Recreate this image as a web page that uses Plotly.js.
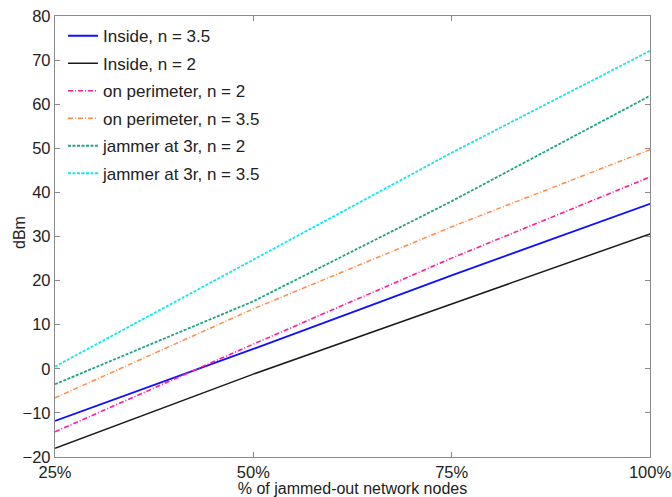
<!DOCTYPE html>
<html>
<head>
<meta charset="utf-8">
<script src="https://cdn.plot.ly/plotly-3.0.1.min.js"></script>
<style>
  html, body { margin: 0; padding: 0; background: #fff; }
  #chart { width: 672px; height: 497px; }
</style>
</head>
<body>
<div id="chart"></div>
<script>
// Share of jammed-out network nodes (%)
const jammedPct = [25, 50, 75, 100];
const tickLabels = ['25%', '50%', '75%', '100%'];

// Required jammer power (dBm) for each placement / path-loss exponent
const insideN35 = [-11.8, 4.5, 21.2, 37.4];
const insideN2 = [-18.0, -1.2, 14.7, 30.6];
const perimeterN2 = [-14.3, 5.6, 25.1, 43.5];
const perimeterN35 = [-6.6, 13.6, 32.2, 49.7];
const jammer3rN2 = [-3.5, 15.3, 38.0, 61.9];
const jammer3rN35 = [0.5, 24.8, 49.0, 72.1];

const seriesNames = [
  'Inside, n = 3.5',
  'Inside, n = 2',
  'on perimeter, n = 2',
  'on perimeter, n = 3.5',
  'jammer at 3r, n = 2',
  'jammer at 3r, n = 3.5'
];

const seriesValues = [insideN35, insideN2, perimeterN2, perimeterN35, jammer3rN2, jammer3rN35];
const lineStyles = [
  { color: '#1010ff', width: 1.8, dash: 'solid' },
  { color: '#1a1a1a', width: 1.5, dash: 'solid' },
  { color: '#ff1a9c', width: 1.6, dash: '5px,2px,1px,2px' },
  { color: '#ff8c45', width: 1.5, dash: '5px,2px,1px,2px' },
  { color: '#1fa386', width: 1.8, dash: '3px,1.5px' },
  { color: '#10e8f0', width: 1.8, dash: '3px,1.5px' }
];

const traces = seriesValues.map((vals, i) => ({
  x: jammedPct,
  y: vals,
  type: 'scatter',
  mode: 'lines',
  name: seriesNames[i],
  legendgroup: 'g' + i,
  line: lineStyles[i]
}));

const fontFamily = 'Liberation Sans, Arial, sans-serif';

const axisCommon = {
  showgrid: false,
  zeroline: false,
  showline: true,
  linecolor: '#8a8a8a',
  linewidth: 1.2,
  mirror: 'ticks',
  ticks: 'inside',
  ticklen: 5,
  tickcolor: '#8a8a8a',
  tickfont: { family: fontFamily, size: 16.5, color: '#222' }
};

const layout = {
  width: 672,
  height: 497,
  margin: { l: 55, r: 22, t: 16, b: 40 },
  paper_bgcolor: '#fff',
  plot_bgcolor: '#fff',
  font: { family: fontFamily, size: 16, color: '#222' },
  xaxis: Object.assign({}, axisCommon, {
    range: [25, 100],
    tickvals: jammedPct,
    ticktext: tickLabels,
    title: { text: '% of jammed-out network nodes', font: { size: 16, color: '#222' }, standoff: 2 }
  }),
  yaxis: Object.assign({}, axisCommon, {
    range: [-20, 80],
    dtick: 10
  }),
  // y-axis label placed close to the tick labels
  annotations: [{
    text: 'dBm',
    textangle: -90,
    xref: 'paper',
    yref: 'paper',
    x: 0,
    y: 0.5,
    xanchor: 'right',
    yanchor: 'middle',
    xshift: -25,
    yshift: 4,
    showarrow: false,
    font: { family: fontFamily, size: 16, color: '#222' }
  }],
  showlegend: true,
  legend: {
    x: 0.0134,
    y: 0.995,
    xanchor: 'left',
    yanchor: 'top',
    bgcolor: 'rgba(255,255,255,0)',
    borderwidth: 0,
    traceorder: 'grouped',
    tracegroupgap: 2.4,
    font: { family: fontFamily, size: 17, color: '#222' }
  }
};

Plotly.newPlot('chart', traces, layout, { displayModeBar: false, staticPlot: true });
</script>
</body>
</html>
